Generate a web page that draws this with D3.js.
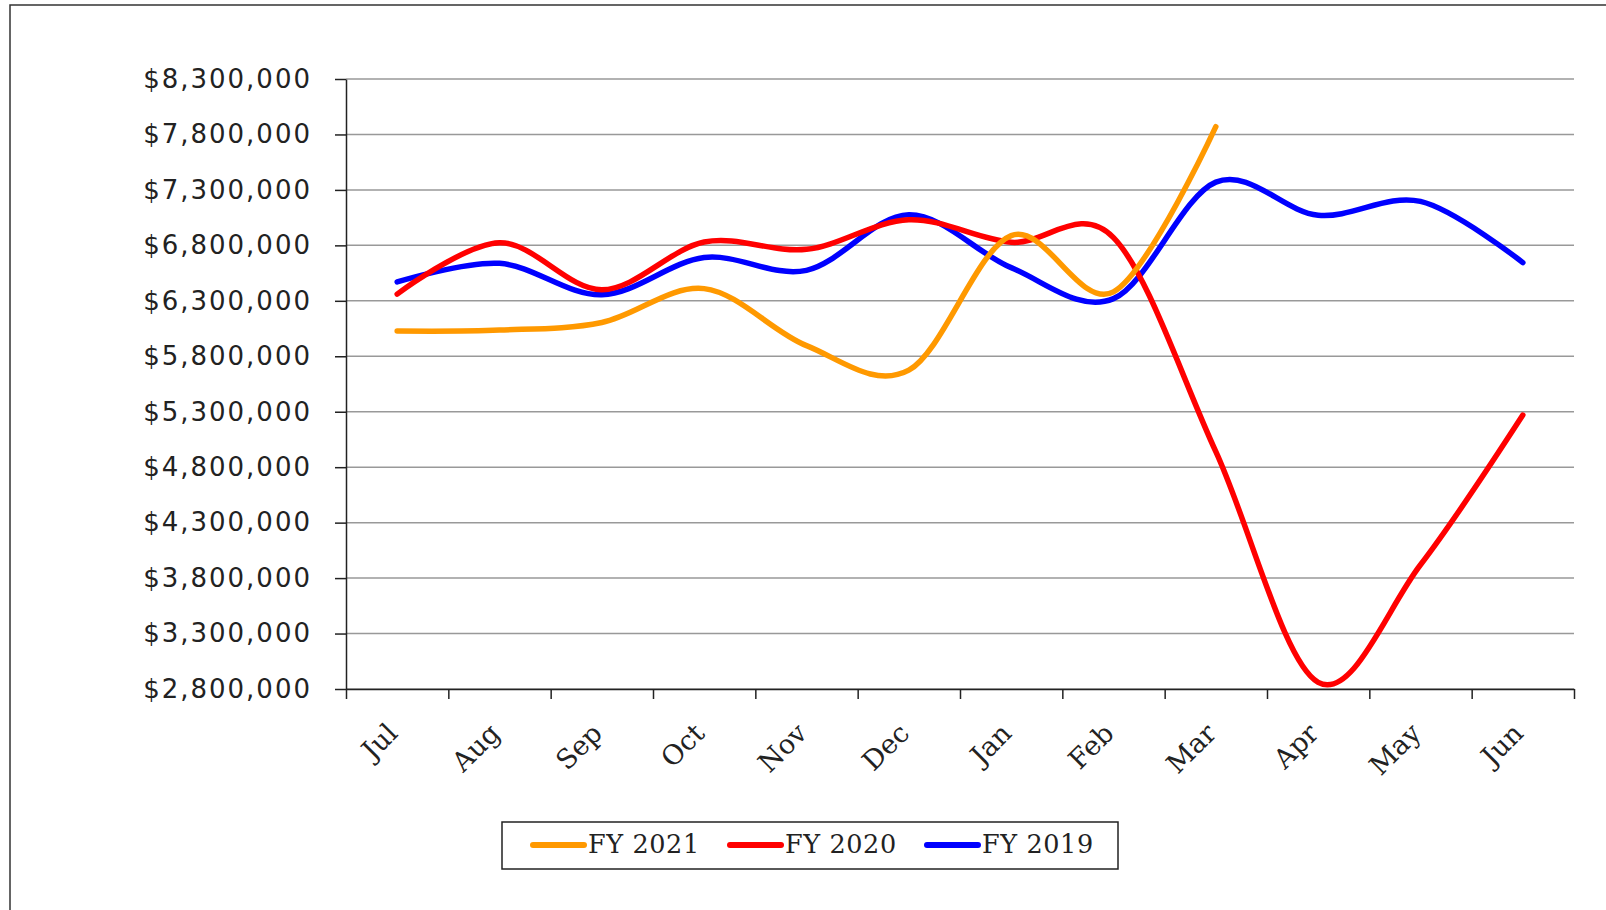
<!DOCTYPE html>
<html>
<head>
<meta charset="utf-8">
<script src="https://cdn.jsdelivr.net/npm/d3@7"></script>
<style>
  body { margin: 0; background: #fff; }
</style>
</head>
<body>
<svg width="1606" height="910"></svg>
<script>
const months = ["Jul", "Aug", "Sep", "Oct", "Nov", "Dec", "Jan", "Feb", "Mar", "Apr", "May", "Jun"];
const fy2021 = [6028000, 6036000, 6105000, 6410000, 5896000, 5675000, 6888000, 6381000, 7870000];
const fy2020 = [6360000, 6824000, 6400000, 6830000, 6764000, 7031000, 6828000, 6870000, 4940000, 2860000, 3920000, 5270000];
const fy2019 = [6470000, 6638000, 6354000, 6690000, 6575000, 7076000, 6599000, 6320000, 7370000, 7072000, 7196000, 6645000];
const yTicks = [2800000, 3300000, 3800000, 4300000, 4800000, 5300000, 5800000, 6300000, 6800000, 7300000, 7800000, 8300000];

const series = [
  { name: "FY 2021", values: fy2021, color: "#FF9900" },
  { name: "FY 2020", values: fy2020, color: "#FF0000" },
  { name: "FY 2019", values: fy2019, color: "#0000FF" }
];

const svg = d3.select("svg");
const margin = { top: 79, left: 346, right: 32, bottom: 221 };
const width = +svg.attr("width") - margin.left - margin.right;
const height = +svg.attr("height") - margin.top - margin.bottom;

// outer frame (right/bottom edges run off the page)
svg.append("rect")
  .attr("x", 10).attr("y", 5)
  .attr("width", 1700).attr("height", 1000)
  .attr("fill", "none")
  .attr("stroke", "#333")
  .attr("stroke-width", 1.5);

const g = svg.append("g").attr("transform", `translate(${margin.left},${margin.top})`);

const x = d3.scaleBand().domain(months).range([0, width]);
const xEdge = d3.scaleLinear().domain([0, months.length]).range([0, width]);
const y = d3.scaleLinear().domain([2800000, 8300000]).range([height, 0]);

// gridlines
g.append("g")
  .selectAll("line")
  .data(yTicks)
  .join("line")
  .attr("x1", 0).attr("x2", width)
  .attr("y1", (d) => y(d)).attr("y2", (d) => y(d))
  .attr("stroke", "#999")
  .attr("stroke-width", 1.5);

// y axis
g.append("g")
  .call(d3.axisLeft(y).tickValues(yTicks).tickFormat(d3.format("$,.0f")).tickSize(11).tickSizeOuter(0).tickPadding(23))
  .call((a) => a.select(".domain").attr("stroke", "#222").attr("stroke-width", 1.5))
  .call((a) => a.selectAll(".tick line").attr("stroke", "#222").attr("stroke-width", 1.5))
  .call((a) => a.selectAll("text")
    .attr("fill", "#222")
    .style("letter-spacing", "2px")
    .style("font", "26px 'DejaVu Sans', Verdana, sans-serif"));

// x axis: ticks at band edges
g.append("g")
  .attr("transform", `translate(0,${height})`)
  .call(d3.axisBottom(xEdge).ticks(months.length).tickFormat("").tickSize(10).tickSizeOuter(0))
  .call((a) => a.select(".domain").attr("stroke", "#222").attr("stroke-width", 1.5))
  .call((a) => a.selectAll(".tick line").attr("stroke", "#222").attr("stroke-width", 1.5));

g.append("g")
  .selectAll("text")
  .data(months)
  .join("text")
  .attr("transform", (d) => `translate(${x(d) + x.bandwidth() / 2 + 2},${height + 46}) rotate(-45)`)
  .attr("text-anchor", "end")
  .attr("fill", "#222")
  .style("font", "27px 'DejaVu Serif', serif")
  .text((d) => d);

// lines
const line = d3.line()
  .x((d, i) => x(months[i]) + x.bandwidth() / 2)
  .y((d) => y(d))
  .curve(d3.curveCatmullRom.alpha(0));

g.append("g")
  .selectAll("path")
  .data(series.slice().reverse())
  .join("path")
  .attr("fill", "none")
  .attr("stroke", (d) => d.color)
  .attr("stroke-width", 5.5)
  .attr("stroke-linecap", "round")
  .attr("stroke-linejoin", "round")
  .attr("d", (d) => line(d.values));

// legend
const legend = svg.append("g").attr("transform", "translate(502,822)");
legend.append("rect")
  .attr("width", 616).attr("height", 47)
  .attr("fill", "#fff")
  .attr("stroke", "#222")
  .attr("stroke-width", 1.5);

const legendX = [31, 228, 425];
const item = legend.selectAll("g.item")
  .data(series)
  .join("g")
  .attr("class", "item")
  .attr("transform", (d, i) => `translate(${legendX[i]},0)`);

item.append("line")
  .attr("x1", 0).attr("x2", 51)
  .attr("y1", 23).attr("y2", 23)
  .attr("stroke", (d) => d.color)
  .attr("stroke-width", 6)
  .attr("stroke-linecap", "round");

item.append("text")
  .attr("x", 55)
  .attr("y", 31)
  .attr("fill", "#222")
  .style("letter-spacing", "0.6px")
  .style("font", "25.5px 'DejaVu Serif', serif")
  .text((d) => d.name);
</script>
</body>
</html>
